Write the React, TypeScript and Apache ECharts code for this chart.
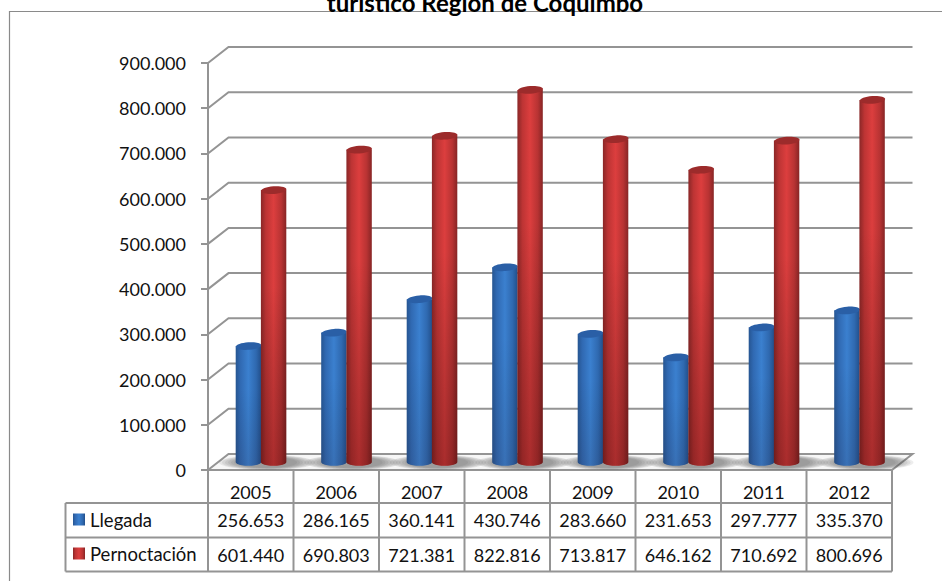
import React, { useEffect, useRef } from "react";
import * as echarts from "echarts";

const years = ["2005", "2006", "2007", "2008", "2009", "2010", "2011", "2012"];
const llegada = [256653, 286165, 360141, 430746, 283660, 231653, 297777, 335370];
const pernoctacion = [601440, 690803, 721381, 822816, 713817, 646162, 710692, 800696];
const yTicks = [0, 100000, 200000, 300000, 400000, 500000, 600000, 700000, 800000, 900000];
const titleText = "turístico Región de Coquimbo";

const FONT = "Lato, Carlito, Calibri, sans-serif";
const GREY = "#949494";
const DX = 20.5;
const DY = -16;
const fmt = (v: number) => (v === 0 ? "0" : (v / 1000).toFixed(3));
const hGrad = (stops: [number, string][]) =>
  new echarts.graphic.LinearGradient(0, 0, 1, 0, stops.map(([offset, color]) => ({ offset, color })));

const blueGrad = () => hGrad([[0, "#265591"], [0.18, "#3069b2"], [0.5, "#3b80cf"], [0.8, "#2f69b0"], [1, "#224f8b"]]);
const redGrad = () => hGrad([[0, "#8a2727"], [0.2, "#bd3434"], [0.5, "#dc3e3e"], [0.8, "#b83333"], [1, "#872525"]]);

function barRenderer(side: number, gradFn: () => any, topColor: string, fade: number) {
  return (params: any, api: any) => {
    const c = api.value(0);
    const val = api.value(1);
    const [cx0, y0] = api.coord([c, 0]);
    const [, yV] = api.coord([c, val]);
    const rx = 12.7;
    const ry = 3.8;
    const cx = cx0 + DX / 2 + side * 12.6;
    const yBase = y0 + DY / 2;
    const yTop = yV + DY / 2;
    const pts: number[][] = [[cx - rx, yTop]];
    for (let i = 0; i <= 24; i++) {
      const a = Math.PI - (Math.PI * i) / 24;
      pts.push([cx + rx * Math.cos(a), yBase + ry * Math.sin(a)]);
    }
    pts.push([cx + rx, yTop]);
    return {
      type: "group",
      children: [
        { type: "polygon", shape: { points: pts }, style: { fill: gradFn() }, silent: true },
        {
          type: "polygon",
          shape: { points: pts },
          style: {
            fill: new echarts.graphic.LinearGradient(0, 0, 0, 1, [
              { offset: 0, color: "rgba(0,0,0,0)" },
              { offset: 0.35, color: "rgba(0,0,0,0)" },
              { offset: 1, color: `rgba(40,0,0,${fade})` },
            ]),
          },
          silent: true,
        },
        {
          type: "ellipse",
          shape: { cx, cy: yTop, rx, ry },
          rotation: 0.07,
          originX: cx,
          originY: yTop,
          style: { fill: topColor },
          silent: true,
        },
      ],
    };
  };
}

const App: React.FC = () => {
  const ref = useRef<HTMLDivElement>(null);
  useEffect(() => {
    const chart = echarts.init(ref.current!, undefined, { renderer: "svg" });
    const idx = years.map((_, i) => i);

    const wallItem = (params: any, api: any) => {
      const v = api.value(0);
      const [x0, y] = api.coord([0, v]);
      const right = api.coord([years.length - 1, v])[0] + api.size([1, 0])[0] / 2;
      const left = x0 - api.size([1, 0])[0] / 2;
      const ls = { stroke: GREY, lineWidth: 2, fill: "none" };
      return {
        type: "polyline",
        shape: { points: [[left, y], [left + DX, y + DY], [right + DX, y + DY]] },
        style: ls,
        silent: true,
      };
    };

    const floorItem = (params: any, api: any) => {
      const size = api.size([1, 0])[0];
      const [x0, y] = api.coord([0, 0]);
      const left = x0 - size / 2;
      const right = left + size * years.length;
      return {
        type: "polygon",
        shape: { points: [[left, y], [left + DX, y + DY], [right + DX, y + DY], [right, y]] },
        style: { fill: "#f7f7f7", stroke: GREY, lineWidth: 2 },
        silent: true,
      };
    };

    const shadowItem = (params: any, api: any) => {
      const [cx0, y0] = api.coord([api.value(0), 0]);
      const children: any[] = [];
      for (let i = 0; i < 7; i++) {
        children.push({
          type: "ellipse",
          shape: { cx: cx0 + DX / 2 + 6, cy: y0 + DY / 2 + 0.5, rx: 48 - i * 3, ry: 7.5 - i * 0.35 },
          style: { fill: "rgba(80,80,80,0.1)" },
          silent: true,
        });
      }
      return { type: "group", children };
    };

    const tableItem = (params: any, api: any) => {
      const size = api.size([1, 0])[0];
      const [x0, y0] = api.coord([0, 0]);
      const left = x0 - size / 2;
      const right = left + size * years.length;
      const rows = [y0 + 33, y0 + 67.5, y0 + 101.5];
      const legendLeft = 65.5;
      const children: any[] = [];
      const line = (x1: number, y1: number, x2: number, y2: number) =>
        children.push({
          type: "line",
          shape: { x1, y1, x2, y2 },
          style: { stroke: GREY, lineWidth: 2 },
          silent: true,
        });
      rows.forEach((y) => line(legendLeft, y, right, y));
      for (let i = 0; i <= years.length; i++) {
        const x = left + i * size;
        line(x, y0, x, rows[2]);
      }
      line(legendLeft, rows[0], legendLeft, rows[2]);
      [llegada, pernoctacion].forEach((arr, r) => {
        arr.forEach((v, i) => {
          children.push({
            type: "text",
            x: left + (i + 0.5) * size,
            y: (rows[r] + rows[r + 1]) / 2,
            style: {
              text: fmt(v),
              font: `18px ${FONT}`,
              fill: "#111",
              textAlign: "center",
              textVerticalAlign: "middle",
            },
            silent: true,
          });
        });
      });
      return { type: "group", children };
    };

    chart.setOption({
      animation: false,
      backgroundColor: "#fff",
      textStyle: { fontFamily: FONT },
      title: {
        text: titleText,
        left: 480,
        textAlign: "center",
        top: -15,
        textStyle: { fontFamily: FONT, fontSize: 24, fontWeight: "bold", color: "#000" },
      },
      legend: {
        orient: "vertical",
        left: 73,
        top: 510,
        padding: 0,
        itemWidth: 12,
        itemHeight: 12,
        itemGap: 15,
        icon: "rect",
        data: ["Llegada", "Pernoctación"],
        textStyle: { fontFamily: FONT, fontSize: 18.5, color: "#111" },
      },
      graphic: [
        {
          type: "rect",
          shape: { x: 9.5, y: 11.5, width: 960, height: 600 },
          style: { fill: "none", stroke: "#8a8a8a", lineWidth: 1.2 },
          silent: true,
          z: -10,
        },
      ],
      grid: { left: 208, right: 50, top: 63, bottom: 111 },
      xAxis: {
        type: "category",
        data: years,
        axisLine: { show: false },
        axisTick: { show: false },
        axisLabel: { color: "#111", fontSize: 18, fontFamily: FONT, margin: 13 },
      },
      yAxis: {
        type: "value",
        min: 0,
        max: 900000,
        interval: 100000,
        axisLine: { show: true, lineStyle: { color: GREY, width: 2 } },
        axisTick: { show: true, length: 7, lineStyle: { color: GREY, width: 2 } },
        splitLine: { show: false },
        axisLabel: {
          formatter: (v: number) => fmt(v),
          color: "#111",
          fontSize: 18,
          fontFamily: FONT,
          margin: 22,
        },
      },
      series: [
        { type: "custom", name: "floor", z: 1, renderItem: floorItem, data: [[0]], encode: { x: 0 }, silent: true },
        { type: "custom", name: "wall", z: 2, renderItem: wallItem, data: yTicks.slice(1).map((v) => [v]), encode: { y: 0 }, silent: true },
        { type: "custom", name: "shadow", z: 3, renderItem: shadowItem, data: idx.map((i) => [i]), encode: { x: 0 }, silent: true },
        {
          type: "custom",
          name: "Llegada",
          z: 4,
          itemStyle: { color: blueGrad() },
          renderItem: barRenderer(-1, blueGrad, "#2a5fa6", 0.12),
          data: llegada.map((v, i) => [i, v]),
          encode: { x: 0, y: 1 },
        },
        {
          type: "custom",
          name: "Pernoctación",
          z: 5,
          itemStyle: { color: redGrad() },
          renderItem: barRenderer(1, redGrad, "#9c2b2b", 0.28),
          data: pernoctacion.map((v, i) => [i, v]),
          encode: { x: 0, y: 1 },
        },
        { type: "custom", name: "table", z: 6, renderItem: tableItem, data: [[0]], encode: { x: 0 }, silent: true },
      ],
    });
    return () => chart.dispose();
  }, []);
  return <div ref={ref} style={{ position: "fixed", left: 0, top: 0, width: 942, height: 581 }} />;
};

export default App;
